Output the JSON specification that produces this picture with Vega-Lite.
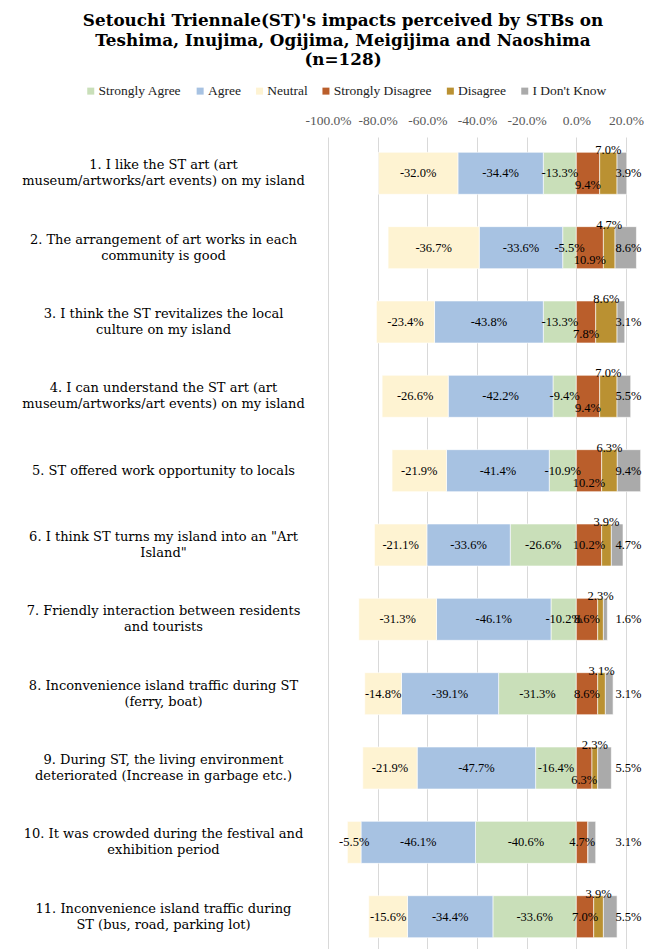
{
  "$schema": "https://vega.github.io/schema/vega-lite/v6.json",
  "autosize": {"type": "none"},
  "padding": {"left": 328, "top": 137, "right": 22, "bottom": 0},
  "width": 298,
  "height": 812,
  "background": "white",
  "title": {
    "text": ["Setouchi Triennale(ST)'s impacts perceived by STBs on", "Teshima, Inujima, Ogijima, Meigijima and Naoshima", "(n=128)"],
    "font": "DejaVu Serif",
    "fontWeight": "bold",
    "fontSize": 16.8,
    "lineHeight": 19.5,
    "color": "#000000",
    "anchor": "middle",
    "frame": "group",
    "dx": -134,
    "offset": 15
  },
  "datasets": {
    "items": [
      {"q": 1, "item": "1. I like the ST art (art\nmuseum/artworks/art events) on my island"},
      {"q": 2, "item": "2. The arrangement of art works in each\ncommunity is good"},
      {"q": 3, "item": "3. I think the ST revitalizes the local\nculture on my island"},
      {"q": 4, "item": "4. I can understand the ST art (art\nmuseum/artworks/art events) on my island"},
      {"q": 5, "item": "5. ST offered work opportunity to locals"},
      {"q": 6, "item": "6. I think ST turns my island into an \"Art\nIsland\""},
      {"q": 7, "item": "7. Friendly interaction between residents\nand tourists"},
      {"q": 8, "item": "8. Inconvenience island traffic during ST\n(ferry, boat)"},
      {"q": 9, "item": "9. During ST, the living environment\ndeteriorated (Increase in garbage etc.)"},
      {"q": 10, "item": "10. It was crowded during the festival and\nexhibition period"},
      {"q": 11, "item": "11. Inconvenience island traffic during\nST (bus, road, parking lot)"}
    ],
    "responses": [
      {"q": 1, "response": "Strongly Agree", "value": -13.3},
      {"q": 1, "response": "Agree", "value": -34.4},
      {"q": 1, "response": "Neutral", "value": -32.0},
      {"q": 1, "response": "Strongly Disagree", "value": 9.4},
      {"q": 1, "response": "Disagree", "value": 7.0},
      {"q": 1, "response": "I Don't Know", "value": 3.9},
      {"q": 2, "response": "Strongly Agree", "value": -5.5},
      {"q": 2, "response": "Agree", "value": -33.6},
      {"q": 2, "response": "Neutral", "value": -36.7},
      {"q": 2, "response": "Strongly Disagree", "value": 10.9},
      {"q": 2, "response": "Disagree", "value": 4.7},
      {"q": 2, "response": "I Don't Know", "value": 8.6},
      {"q": 3, "response": "Strongly Agree", "value": -13.3},
      {"q": 3, "response": "Agree", "value": -43.8},
      {"q": 3, "response": "Neutral", "value": -23.4},
      {"q": 3, "response": "Strongly Disagree", "value": 7.8},
      {"q": 3, "response": "Disagree", "value": 8.6},
      {"q": 3, "response": "I Don't Know", "value": 3.1},
      {"q": 4, "response": "Strongly Agree", "value": -9.4},
      {"q": 4, "response": "Agree", "value": -42.2},
      {"q": 4, "response": "Neutral", "value": -26.6},
      {"q": 4, "response": "Strongly Disagree", "value": 9.4},
      {"q": 4, "response": "Disagree", "value": 7.0},
      {"q": 4, "response": "I Don't Know", "value": 5.5},
      {"q": 5, "response": "Strongly Agree", "value": -10.9},
      {"q": 5, "response": "Agree", "value": -41.4},
      {"q": 5, "response": "Neutral", "value": -21.9},
      {"q": 5, "response": "Strongly Disagree", "value": 10.2},
      {"q": 5, "response": "Disagree", "value": 6.3},
      {"q": 5, "response": "I Don't Know", "value": 9.4},
      {"q": 6, "response": "Strongly Agree", "value": -26.6},
      {"q": 6, "response": "Agree", "value": -33.6},
      {"q": 6, "response": "Neutral", "value": -21.1},
      {"q": 6, "response": "Strongly Disagree", "value": 10.2},
      {"q": 6, "response": "Disagree", "value": 3.9},
      {"q": 6, "response": "I Don't Know", "value": 4.7},
      {"q": 7, "response": "Strongly Agree", "value": -10.2},
      {"q": 7, "response": "Agree", "value": -46.1},
      {"q": 7, "response": "Neutral", "value": -31.3},
      {"q": 7, "response": "Strongly Disagree", "value": 8.6},
      {"q": 7, "response": "Disagree", "value": 2.3},
      {"q": 7, "response": "I Don't Know", "value": 1.6},
      {"q": 8, "response": "Strongly Agree", "value": -31.3},
      {"q": 8, "response": "Agree", "value": -39.1},
      {"q": 8, "response": "Neutral", "value": -14.8},
      {"q": 8, "response": "Strongly Disagree", "value": 8.6},
      {"q": 8, "response": "Disagree", "value": 3.1},
      {"q": 8, "response": "I Don't Know", "value": 3.1},
      {"q": 9, "response": "Strongly Agree", "value": -16.4},
      {"q": 9, "response": "Agree", "value": -47.7},
      {"q": 9, "response": "Neutral", "value": -21.9},
      {"q": 9, "response": "Strongly Disagree", "value": 6.3},
      {"q": 9, "response": "Disagree", "value": 2.3},
      {"q": 9, "response": "I Don't Know", "value": 5.5},
      {"q": 10, "response": "Strongly Agree", "value": -40.6},
      {"q": 10, "response": "Agree", "value": -46.1},
      {"q": 10, "response": "Neutral", "value": -5.5},
      {"q": 10, "response": "Strongly Disagree", "value": 4.7},
      {"q": 10, "response": "Disagree", "value": 0},
      {"q": 10, "response": "I Don't Know", "value": 3.1},
      {"q": 11, "response": "Strongly Agree", "value": -33.6},
      {"q": 11, "response": "Agree", "value": -34.4},
      {"q": 11, "response": "Neutral", "value": -15.6},
      {"q": 11, "response": "Strongly Disagree", "value": 7.0},
      {"q": 11, "response": "Disagree", "value": 3.9},
      {"q": 11, "response": "I Don't Know", "value": 5.5}
    ]
  },
  "data": {"name": "responses"},
  "transform": [
    {"lookup": "q", "from": {"data": {"name": "items"}, "key": "q", "fields": ["item"]}},
    {"calculate": "indexof(['Strongly Agree', 'Agree', 'Neutral', 'Strongly Disagree', 'Disagree', \"I Don't Know\"], datum.response)", "as": "ord"},
    {"stack": "value", "groupby": ["q"], "sort": [{"field": "ord", "order": "ascending"}], "as": ["v0", "v1"], "offset": "zero"},
    {"calculate": "(datum.v0 + datum.v1) / 2", "as": "mid"},
    {"calculate": "(datum.value < 0 ? '-' : '') + format(abs(datum.value), '.1f') + '%'", "as": "lbl"}
  ],
  "encoding": {
    "y": {
      "field": "item",
      "type": "nominal",
      "sort": {"field": "q", "op": "min", "order": "ascending"},
      "scale": {"paddingInner": 0.435, "paddingOuter": 0.179, "align": 0.575},
      "axis": {
        "title": null,
        "domain": false,
        "ticks": false,
        "tickSize": 0,
        "grid": false,
        "labelAlign": "center",
        "labelBaseline": {"condition": {"test": "indexof(datum.label, '\\n') < 0", "value": "middle"}, "value": "line-bottom"},
        "labelPadding": 165,
        "labelFont": "DejaVu Serif",
        "labelFontSize": 13,
        "labelColor": "#000000",
        "labelLineHeight": 16,
        "labelLimit": 400,
        "labelExpr": "split(datum.label, '\\n')"
      }
    }
  },
  "layer": [
    {
      "mark": {"type": "bar", "stroke": "white", "strokeWidth": 0.6},
      "encoding": {
        "x": {
          "field": "v0",
          "type": "quantitative",
          "title": null,
          "scale": {"domain": [-100, 20], "nice": false, "zero": false},
          "axis": {
            "orient": "top",
            "values": [-100, -80, -60, -40, -20, 0, 20],
            "labelExpr": "(datum.value < 0 ? '-' : '') + format(abs(datum.value), '.1f') + '%'",
            "domain": false,
            "ticks": false,
            "tickSize": 0,
            "grid": true,
            "gridColor": "#d9d9d9",
            "gridWidth": 1,
            "labelFont": "Liberation Serif",
            "labelFontSize": 13.5,
            "labelColor": "#595959",
            "labelPadding": 17,
            "labelBaseline": "middle",
            "labelOverlap": false,
            "labelFlush": false
          }
        },
        "x2": {"field": "v1"},
        "color": {
          "field": "response",
          "type": "nominal",
          "scale": {
            "domain": ["Strongly Agree", "Agree", "Neutral", "Strongly Disagree", "Disagree", "I Don't Know"],
            "range": ["#C9DFB9", "#A7C2E2", "#FEF3D2", "#BA5E2B", "#BA9132", "#AAAAAA"]
          },
          "legend": {
            "orient": "none",
            "legendX": -244,
            "legendY": -53,
            "direction": "horizontal",
            "columns": 6,
            "title": null,
            "symbolType": "square",
            "symbolSize": 49,
            "symbolStrokeWidth": 0,
            "labelFont": "Liberation Serif",
            "labelFontSize": 13.5,
            "labelColor": "#222222",
            "columnPadding": 11.4,
            "labelOffset": 1,
            "padding": 0
          }
        }
      }
    },
    {
      "transform": [{"filter": "datum.ord <= 2"}],
      "mark": {"type": "text", "font": "Liberation Serif", "fontSize": 12.5, "color": "#000000", "align": "center", "baseline": "middle"},
      "encoding": {
        "x": {"field": "mid", "type": "quantitative", "title": null, "scale": {"domain": [-100, 20], "nice": false, "zero": false}},
        "text": {"field": "lbl"}
      }
    },
    {
      "transform": [{"filter": "datum.ord == 3 && indexof([1, 2, 3, 4, 5, 9], datum.q) >= 0"}],
      "mark": {"type": "text", "font": "Liberation Serif", "fontSize": 12.5, "color": "#000000", "align": "center", "baseline": "middle", "dy": 12},
      "encoding": {
        "x": {"field": "mid", "type": "quantitative", "title": null, "scale": {"domain": [-100, 20], "nice": false, "zero": false}},
        "text": {"field": "lbl"}
      }
    },
    {
      "transform": [{"filter": "datum.ord == 3 && indexof([1, 2, 3, 4, 5, 9], datum.q) < 0"}],
      "mark": {"type": "text", "font": "Liberation Serif", "fontSize": 12.5, "color": "#000000", "align": "center", "baseline": "middle"},
      "encoding": {
        "x": {"field": "mid", "type": "quantitative", "title": null, "scale": {"domain": [-100, 20], "nice": false, "zero": false}},
        "text": {"field": "lbl"}
      }
    },
    {
      "transform": [{"filter": "datum.ord == 4 && datum.value > 0"}],
      "mark": {"type": "text", "font": "Liberation Serif", "fontSize": 12.5, "color": "#000000", "align": "center", "baseline": "middle", "dy": -23},
      "encoding": {
        "x": {"field": "mid", "type": "quantitative", "title": null, "scale": {"domain": [-100, 20], "nice": false, "zero": false}},
        "text": {"field": "lbl"}
      }
    },
    {
      "transform": [{"filter": "datum.ord == 5"}],
      "mark": {"type": "text", "font": "Liberation Serif", "fontSize": 12.5, "color": "#000000", "align": "center", "baseline": "middle"},
      "encoding": {
        "x": {"datum": 21, "type": "quantitative", "title": null, "scale": {"domain": [-100, 20], "nice": false, "zero": false}},
        "text": {"field": "lbl"}
      }
    }
  ],
  "config": {
    "view": {"stroke": null}
  }
}
